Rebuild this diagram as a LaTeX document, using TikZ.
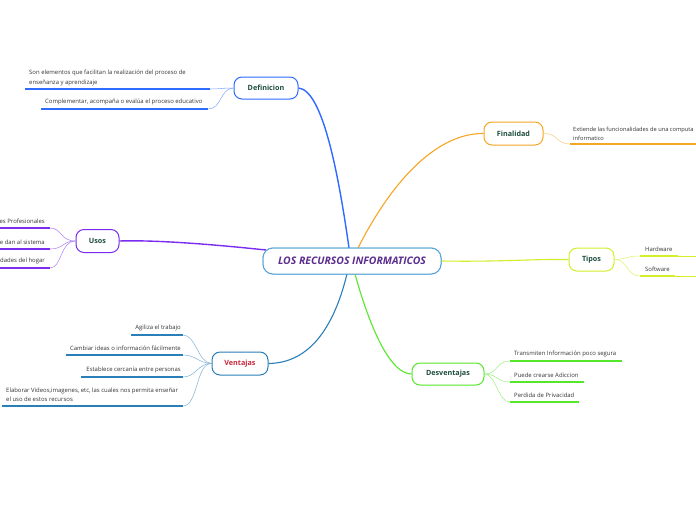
\documentclass[tikz,border=0pt]{standalone}
\usepackage{fontspec}
\setmainfont{Open Sans}
\begin{document}
\begin{tikzpicture}[x=1pt,y=-1pt,
  mainbox/.style={draw, rounded corners=8pt, line width=1pt, fill=white, inner sep=0pt,
     font=\fontsize{7.2}{8}\selectfont\bfseries, text=labelgreen},
  leaf/.style={inner sep=0pt, font=\fontsize{5.95}{9.5}\selectfont, text=leafgray},
  uline/.style={line width=1.6pt},
  twig/.style={line width=0.5pt},
  branch/.style={line width=1.4pt}]
\definecolor{labelgreen}{HTML}{1D4D3B}
\definecolor{leafgray}{HTML}{333333}
\definecolor{cborder}{HTML}{5AA6D6}
\definecolor{ctitle}{HTML}{5B2D8E}
\definecolor{cdef}{HTML}{2F6BFF}
\definecolor{cusos}{HTML}{7A2CF0}
\definecolor{cven}{HTML}{2A7FB8}
\definecolor{cventxt}{HTML}{C8283C}
\definecolor{cfin}{HTML}{F5A623}
\definecolor{ctip}{HTML}{D4EF2A}
\definecolor{cdes}{HTML}{55E82A}
\tikzset{titlebox/.style={mainbox, draw=cborder, rounded corners=10pt, minimum width=178pt, minimum height=26pt,
  font=\fontsize{10.4}{11}\selectfont\bfseries\itshape, text=ctitle}}
\path[use as bounding box, fill=white] (0,0) rectangle (696,520);
\clip (0,0) rectangle (696,520);

% main nodes
\node[titlebox] (c) at (352,261) {LOS RECURSOS INFORMATICOS};
\node[mainbox, draw=cdef, minimum width=64pt, minimum height=22pt] (def) at (266,88) {Definicion};
\node[mainbox, draw=cusos, minimum width=43pt, minimum height=23pt] (usos) at (97.5,241) {Usos};
\node[mainbox, draw=cven, minimum width=56pt, minimum height=23pt, text=cventxt] (ven) at (240,363.5) {Ventajas};
\node[mainbox, draw=cfin, minimum width=59pt, minimum height=23pt] (fin) at (513.5,133.5) {Finalidad};
\node[mainbox, draw=ctip, minimum width=45pt, minimum height=23pt] (tip) at (591.5,259.5) {Tipos};
\node[mainbox, draw=cdes, minimum width=72pt, minimum height=22pt] (des) at (448,374) {Desventajas};

% main branches
\coordinate (cdefs) at (349,248);
\coordinate (cfins) at (358,248);
\coordinate (cvens) at (347,274);
\coordinate (cdess) at (355,274);
\coordinate (cusoss) at (266,250);
\draw[branch, cdef] (cdefs) .. controls (338,170) and (322,90) .. (def.east);
\draw[branch, cfin, line width=1.1pt] (cfins) .. controls (395,175) and (440,133) .. (fin.west);
\draw[branch, cusos] (cusoss) .. controls (200,243) and (150,240) .. (usos.east);
\draw[branch, cven, line width=1.1pt] (cvens) .. controls (332,335) and (305,363) .. (ven.east);
\draw[branch, cdes, line width=1.1pt] (cdess) .. controls (372,335) and (392,374) .. (des.west);
\draw[branch, ctip, line width=1.1pt] (c.east) .. controls (500,262) and (530,259) .. (tip.west);
% central node again, on top of the branch ends
\node[titlebox] (c2) at (352,261) {LOS RECURSOS INFORMATICOS};

% Definicion leaves
\node[leaf, anchor=south west, align=left] (d1) at (29,86) {Son elementos que facilitan la realización del proceso de\\enseñanza y aprendizaje};
\coordinate (d1a) at (25,89); \coordinate (d1b) at (210,89);
\draw[uline, cdef] (d1a) -- (d1b);
\draw[twig, cdef!60] (def.west) .. controls (222,88) and (220,89) .. (d1b);
\node[leaf, anchor=south west] (d2) at (45,105) {Complementar, acompaña o evalúa el proceso educativo};
\coordinate (d2a) at (41,109); \coordinate (d2b) at (208,109);
\draw[uline, cdef] (d2a) -- (d2b);
\draw[twig, cdef!60] (def.west) .. controls (220,88) and (222,109) .. (d2b);

% Usos leaves
\node[leaf, anchor=south east] (u1) at (45,224) {es Profesionales};
\node[leaf, anchor=south east] (u2) at (45,245) {e dan al sistema};
\node[leaf, anchor=south east] (u3) at (45,264) {dades del hogar};
\coordinate (u1a) at (0,228); \coordinate (u1b) at (50,228);
\coordinate (u2a) at (0,249); \coordinate (u2b) at (50,249);
\coordinate (u3a) at (0,268); \coordinate (u3b) at (50,268);
\draw[uline, cusos] (u1a) -- (u1b);
\draw[uline, cusos] (u2a) -- (u2b);
\draw[uline, cusos] (u3a) -- (u3b);
\draw[twig, cusos!60] (usos.west) .. controls (60,241) and (62,228) .. (u1b);
\draw[twig, cusos!60] (usos.west) .. controls (62,241) and (64,249) .. (u2b);
\draw[twig, cusos!60] (usos.west) .. controls (60,241) and (62,268) .. (u3b);

% Ventajas leaves
\node[leaf, anchor=south east] (v1) at (181,331) {Agiliza el trabajo};
\node[leaf, anchor=south east] (v2) at (181,351) {Cambiar ideas o información fácilmente};
\node[leaf, anchor=south east] (v3) at (181,373) {Establece cercanía entre personas};
\node[leaf, anchor=south west, align=left] (v4) at (6,402) {Elaborar Videos,imagenes, etc, las cuales nos permita enseñar\\el uso de estos recursos};
\coordinate (v1a) at (131,335); \coordinate (v1b) at (183,335);
\coordinate (v2a) at (66,355);  \coordinate (v2b) at (183,355);
\coordinate (v3a) at (81,377);  \coordinate (v3b) at (183,377);
\coordinate (v4a) at (2,406);   \coordinate (v4b) at (183,406);
\draw[uline, cven] (v1a) -- (v1b);
\draw[uline, cven] (v2a) -- (v2b);
\draw[uline, cven] (v3a) -- (v3b);
\draw[uline, cven] (v4a) -- (v4b);
\draw[twig, cven!60] (ven.west) .. controls (198,363) and (196,335) .. (v1b);
\draw[twig, cven!60] (ven.west) .. controls (198,363) and (196,355) .. (v2b);
\draw[twig, cven!60] (ven.west) .. controls (198,363) and (196,377) .. (v3b);
\draw[twig, cven!60] (ven.west) .. controls (196,363) and (198,406) .. (v4b);

% Finalidad leaf
\node[leaf, anchor=south west, align=left, font=\fontsize{5.7}{9.3}\selectfont] (f1) at (573,141) {Extiende las funcionalidades de una computa\\informatico};
\coordinate (f1a) at (570,144); \coordinate (f1b) at (696,144);
\draw[uline, cfin] (f1a) -- (f1b);
\draw[twig, cfin!60] (fin.east) .. controls (558,133) and (556,144) .. (f1a);

% Tipos leaves
\node[leaf, anchor=south west] (t1) at (645,252) {Hardware};
\node[leaf, anchor=south west] (t2) at (645,272) {Software};
\coordinate (t1a) at (640,256); \coordinate (t1b) at (678,256); \coordinate (t1c) at (696,256);
\coordinate (t2a) at (640,276); \coordinate (t2b) at (675,276); \coordinate (t2c) at (696,276);
\draw[uline, ctip] (t1a) -- (t1b);
\draw[uline, ctip] (t2a) -- (t2b);
\draw[twig, ctip] (t1b) -- (t1c);
\draw[twig, ctip] (t2b) -- (t2c);
\draw[twig, ctip!70] (tip.east) .. controls (628,259) and (626,256) .. (t1a);
\draw[twig, ctip!70] (tip.east) .. controls (628,259) and (626,276) .. (t2a);

% Desventajas leaves
\node[leaf, anchor=south west] (s1) at (514,357) {Transmiten Información poco segura};
\node[leaf, anchor=south west] (s2) at (514,378) {Puede crearse Adiccion};
\node[leaf, anchor=south west] (s3) at (514,398) {Perdida de Privacidad};
\coordinate (s1a) at (510,361); \coordinate (s1b) at (622,361);
\coordinate (s2a) at (510,382); \coordinate (s2b) at (584,382);
\coordinate (s3a) at (510,402); \coordinate (s3b) at (579,402);
\draw[uline, cdes] (s1a) -- (s1b);
\draw[uline, cdes] (s2a) -- (s2b);
\draw[uline, cdes] (s3a) -- (s3b);
\draw[twig, cdes!60] (des.east) .. controls (498,374) and (496,361) .. (s1a);
\draw[twig, cdes!60] (des.east) .. controls (498,374) and (496,382) .. (s2a);
\draw[twig, cdes!60] (des.east) .. controls (496,374) and (498,402) .. (s3a);
\end{tikzpicture}
\end{document}
